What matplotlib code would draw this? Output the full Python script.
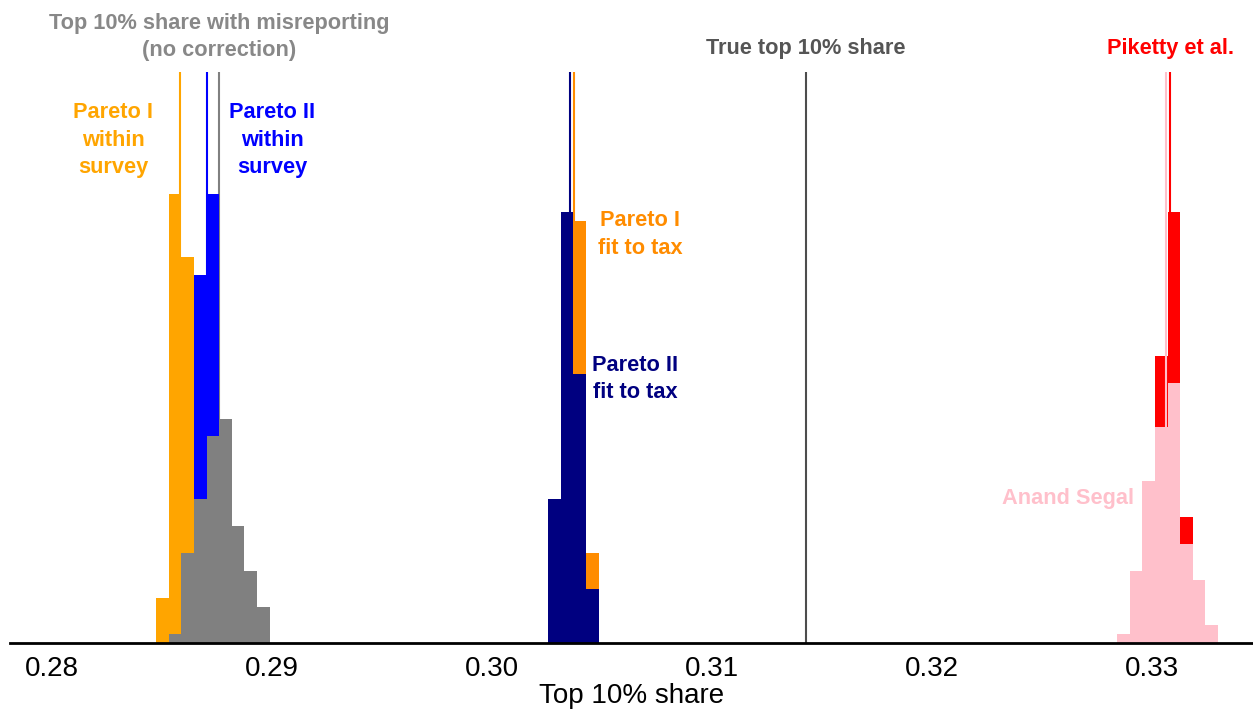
import numpy as np
import matplotlib.pyplot as plt

plt.rcParams['font.family'] = ['Liberation Sans', 'DejaVu Sans']

# bin setup (same width for all histograms)
binw = 0.000574
start_left = 0.28475
start_mid = 0.302568
start_right = 0.328432

# counts per bin (200 simulations each)
pareto1_within = [10, 100, 86, 0, 0, 0, 0, 0, 0]
pareto2_within = [0, 0, 18, 82, 100, 0, 0, 0, 0]
misreport = [0, 2, 20, 32, 46, 50, 26, 16, 8]
pareto1_tax = [0, 86, 94, 20]
pareto2_tax = [32, 96, 60, 12]
piketty = [0, 0, 0, 64, 96, 28, 12, 0]
anand_segal = [2, 16, 36, 48, 58, 22, 14, 4]

# median estimates (vertical lines)
med_p1_within = 0.28586
med_p2_within = 0.28707
med_misreport = 0.28761
med_p2_tax = 0.30357
med_p1_tax = 0.30374
true_share = 0.31430
med_anand = 0.33067
med_piketty = 0.33086

def edges(start, n):
    return start + binw * np.arange(n + 1)

fig = plt.figure(figsize=(12.53, 7.10), dpi=100)
ax = fig.add_axes([10 / 1253, 67 / 710, 1243 / 1253, 643 / 710])

line_top = 127.2
lw = 1.5
# vertical lines behind bars
for xv, c in [(med_p1_within, "#FFA500"), (med_p2_within, "#0000FF"),
              (med_misreport, "#808080"), (med_p2_tax, "#000080"),
              (med_p1_tax, "#FF8C00"), (true_share, "#4D4D4D"),
              (med_piketty, "#FF0000")]:
    ax.plot([xv, xv], [0, line_top], color=c, lw=lw, zorder=1, solid_capstyle="butt")

e_left = edges(start_left, len(misreport))
ax.stairs(pareto2_within, e_left, fill=True, color="#0000FF", lw=0, zorder=2)
ax.stairs(pareto1_within, e_left, fill=True, color="#FFA500", lw=0, zorder=2)
ax.stairs(misreport, e_left, fill=True, color="#808080", lw=0, zorder=2)

e_mid = edges(start_mid, len(pareto2_tax))
ax.stairs(pareto1_tax, e_mid, fill=True, color="#FF8C00", lw=0, zorder=2)
ax.stairs(pareto2_tax, e_mid, fill=True, color="#000080", lw=0, zorder=2)

e_right = edges(start_right, len(anand_segal))
ax.stairs(piketty, e_right, fill=True, color="#FF0000", lw=0, zorder=2)
ax.plot([med_anand, med_anand], [0, line_top], color="#FFC0CB", lw=lw, zorder=2,
        solid_capstyle="butt")
ax.stairs(anand_segal, e_right, fill=True, color="#FFC0CB", lw=0, zorder=2)

# labels
fs = 15.7
ls = 1.4
ax.text(0.287614, 135.0, "Top 10% share with misreporting\n(no correction)",
        color="#888888", fontsize=fs, fontweight="bold", ha="center", va="center",
        linespacing=ls)
ax.text(0.282795, 112.0, "Pareto I\nwithin\nsurvey", color="#FFA500",
        fontsize=fs, fontweight="bold", ha="center", va="center", linespacing=ls)
ax.text(0.290023, 112.0, "Pareto II\nwithin\nsurvey", color="#0000FF",
        fontsize=fs, fontweight="bold", ha="center", va="center", linespacing=ls)
ax.text(0.306750, 91.0, "Pareto I\nfit to tax", color="#FF8C00",
        fontsize=fs, fontweight="bold", ha="center", va="center", linespacing=ls)
ax.text(0.306523, 58.8, "Pareto II\nfit to tax", color="#000080",
        fontsize=fs, fontweight="bold", ha="center", va="center", linespacing=ls)
ax.text(0.314273, 132.3, "True top 10% share", color="#555555",
        fontsize=fs, fontweight="bold", ha="center", va="center")
ax.text(0.330841, 132.3, "Piketty et al.", color="#FF0000",
        fontsize=fs, fontweight="bold", ha="center", va="center")
ax.text(0.326205, 32.1, "Anand Segal", color="#FFC0CB",
        fontsize=fs, fontweight="bold", ha="center", va="center")

ax.set_xlim(0.28 - 41.5 / 22000, 0.28 + 1201.5 / 22000)
ax.set_ylim(0, 643 / 4.49)
ax.set_xticks([0.28, 0.29, 0.30, 0.31, 0.32, 0.33])
ax.set_xticklabels(["0.28", "0.29", "0.30", "0.31", "0.32", "0.33"])
ax.tick_params(axis="x", length=0, pad=9, labelsize=20)
ax.set_yticks([])
ax.set_xlabel("Top 10% share", fontsize=20, labelpad=1)
for s in ["top", "right", "left"]:
    ax.spines[s].set_visible(False)
ax.spines["bottom"].set_linewidth(2)
ax.spines["bottom"].set_zorder(3)

fig.savefig("out.png", dpi=100)
